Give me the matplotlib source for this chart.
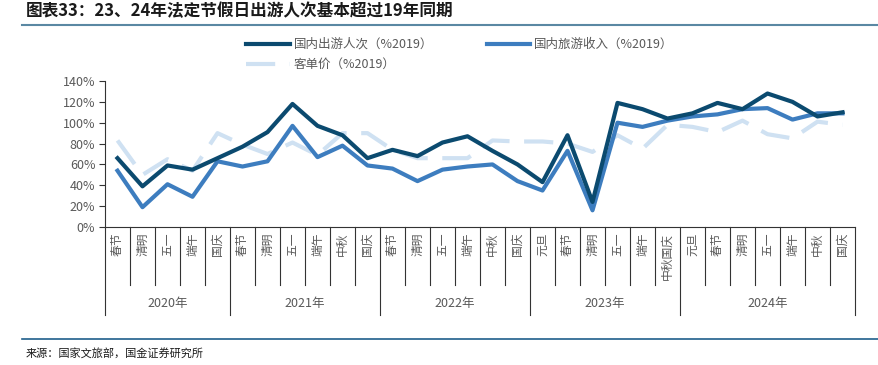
import matplotlib
matplotlib.use("Agg")
import matplotlib.pyplot as plt
from matplotlib.lines import Line2D
from matplotlib.ticker import PercentFormatter

plt.rcParams['font.family'] = ['Noto Sans CJK SC', 'DejaVu Sans']

# 数据
years = ["2020年", "2021年", "2022年", "2023年", "2024年"]
holidays = [
    ["春节", "清明", "五一", "端午", "国庆"],
    ["春节", "清明", "五一", "端午", "中秋", "国庆"],
    ["春节", "清明", "五一", "端午", "中秋", "国庆"],
    ["元旦", "春节", "清明", "五一", "端午", "中秋国庆"],
    ["元旦", "春节", "清明", "五一", "端午", "中秋", "国庆"],
]
trips = [66, 39, 59, 55, 66,
         77, 91, 118, 97, 88, 66,
         74, 68, 81, 87, 73, 60,
         43, 88, 24, 119, 113, 104,
         109, 119, 113, 128, 120, 106, 110]
revenue = [54, 19, 41, 29, 63,
           58, 63, 97, 67, 78, 59,
           56, 44, 55, 58, 60, 44,
           35, 73, 16, 100, 96, 102,
           106, 108, 113, 114, 103, 109, 109]
per_trip = [83, 50, 65, 54, 90,
            79, 70, 81, 69, 90, 90,
            74, 66, 66, 66, 83, 82,
            82, 80, 72, 88, 75, 98,
            96, 91, 102, 89, 85, 101, 98]
series_names = ["国内出游人次（%2019）", "国内旅游收入（%2019）", "客单价（%2019）"]

c_dark = "#0b4a6f"
c_mid = "#3d7dbf"
c_light = "#cfe1f2"
gray = "#595959"

W, H = 879, 365
fig = plt.figure(figsize=(W / 100, H / 100), dpi=100)
ax = fig.add_axes([105 / W, 1 - 227 / H, 750 / W, 146 / H])

x = list(range(len(trips)))
l3, = ax.plot(x, [v / 100 for v in per_trip], color=c_light, lw=3, dashes=(7, 3.5), clip_on=False)
l2, = ax.plot(x, [v / 100 for v in revenue], color=c_mid, lw=3, clip_on=False)
l1, = ax.plot(x, [v / 100 for v in trips], color=c_dark, lw=3, clip_on=False)

ax.set_xlim(-0.5, len(trips) - 0.5)
ax.set_ylim(0, 1.4)
ax.set_yticks([i / 10 for i in range(0, 15, 2)])
ax.yaxis.set_major_formatter(PercentFormatter(1.0, decimals=0))
ax.tick_params(axis='y', direction='out', length=4, width=0.8, colors='#333333',
               labelcolor=gray, labelsize=9, pad=3)
ax.set_xticks([])
for s in ['top', 'right']:
    ax.spines[s].set_visible(False)
ax.spines['left'].set_color('#333333')
ax.spines['bottom'].set_color('#333333')
ax.spines['left'].set_linewidth(0.8)
ax.spines['bottom'].set_linewidth(0.8)

# 分类轴
tr = ax.get_xaxis_transform()
y_tick = -58 / 146
y_grp = -88 / 146
pos = 0
ax.plot([-0.5, -0.5], [0, y_grp], transform=tr, color='#333333', lw=0.8, clip_on=False)
for yr, hs in zip(years, holidays):
    for h in hs:
        ax.text(pos, -0.04, h, transform=tr, rotation=90, ha='center', va='top',
                fontsize=8.5, color=gray)
        pos += 1
        end = pos - 0.5
        if h is not hs[-1]:
            ax.plot([end, end], [0, y_tick], transform=tr, color='#333333', lw=0.8, clip_on=False)
    ax.plot([pos - 0.5, pos - 0.5], [0, y_grp], transform=tr, color='#333333', lw=0.8, clip_on=False)
    mid = pos - len(hs) / 2 - 0.5
    ax.text(mid, -76 / 146, yr, transform=tr, ha='center', va='center', fontsize=9, color=gray)

# 图例
leg = fig.legend([l1, l3, l2], [series_names[0], series_names[2], series_names[1]],
                 ncol=2, loc='upper left', bbox_to_anchor=(246 / W, 1 - 38 / H),
                 frameon=False, fontsize=9, handlelength=3.5, handletextpad=0.3,
                 columnspacing=4.3, labelspacing=0.55, borderaxespad=0, borderpad=0)
for t in leg.get_texts():
    t.set_color(gray)

# 标题与来源
fig.text(26 / W, 1 - 11 / H, "图表33：23、24年法定节假日出游人次基本超过19年同期",
         fontsize=12, fontweight='bold', style='italic', color='#1a1a1a', va='center', ha='left')
fig.add_artist(Line2D([22 / W, 1.0], [1 - 25 / H, 1 - 25 / H], color='#5a88a3', lw=1.5))
fig.add_artist(Line2D([22 / W, 1.0], [1 - 339 / H, 1 - 339 / H], color='#1f5f8b', lw=1.2))
fig.text(26 / W, 1 - 354 / H, "来源：国家文旅部，国金证券研究所",
         fontsize=8, color='#1a1a1a', va='center', ha='left')

fig.savefig("out.png", dpi=100)
